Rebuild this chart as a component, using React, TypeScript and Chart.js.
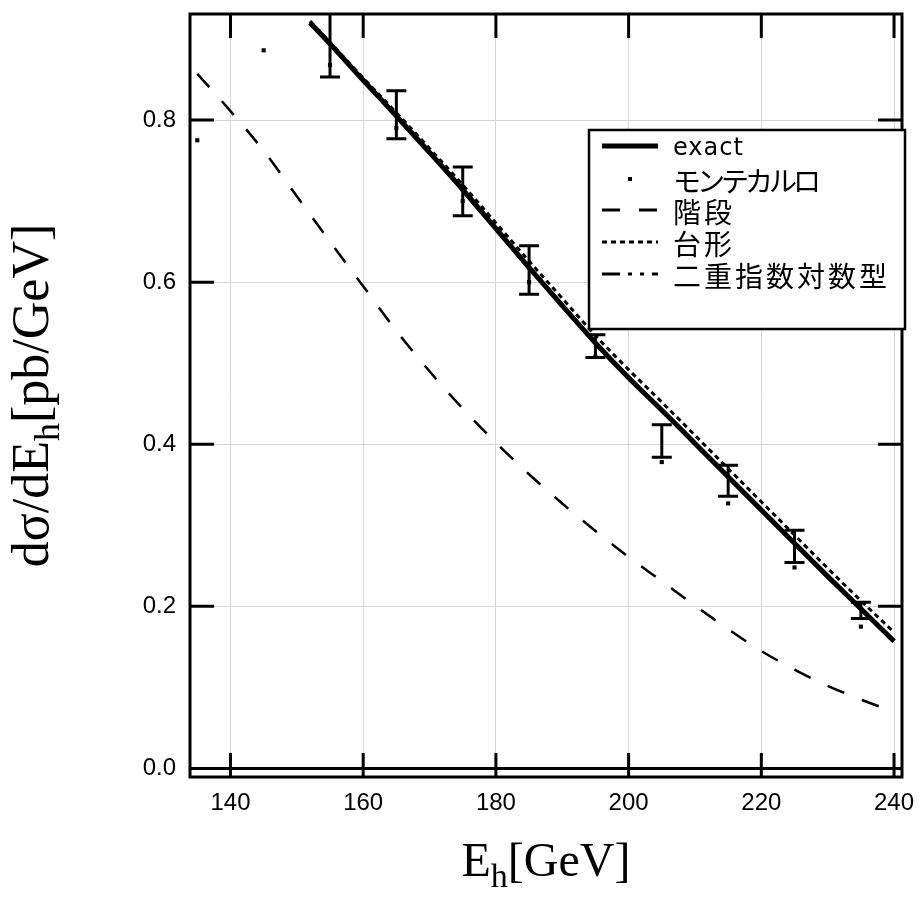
import React, { useEffect, useRef } from "react";
import { Chart, registerables } from "chart.js";
Chart.register(...registerables);

// ---- data ----
const xTicks = [140, 160, 180, 200, 220, 240];
const yTicks = [0, 0.2, 0.4, 0.6, 0.8];

const curveX = [152, 155, 160, 165, 170, 175, 180, 185, 190, 195, 200, 205, 210, 215, 220, 225, 230, 235, 240];
const exactY = [0.920, 0.894, 0.849, 0.805, 0.760, 0.714, 0.666, 0.618, 0.571, 0.525, 0.482, 0.442, 0.401, 0.360, 0.319, 0.278, 0.237, 0.197, 0.157];
const trapY = [0.922, 0.896, 0.852, 0.809, 0.765, 0.720, 0.673, 0.626, 0.580, 0.534, 0.492, 0.452, 0.411, 0.370, 0.329, 0.288, 0.247, 0.207, 0.168];
const dexpY = [0.921, 0.895, 0.850, 0.806, 0.761, 0.715, 0.667, 0.619, 0.572, 0.526, 0.483, 0.443, 0.402, 0.361, 0.320, 0.279, 0.238, 0.198, 0.158];

const stepX = [135, 140, 145, 150, 155, 160, 165, 170, 175, 180, 185, 190, 195, 200, 205, 210, 215, 220, 225, 230, 235, 240];
const stepY = [0.857, 0.811, 0.762, 0.706, 0.650, 0.595, 0.540, 0.490, 0.444, 0.402, 0.363, 0.327, 0.293, 0.261, 0.231, 0.201, 0.172, 0.145, 0.122, 0.102, 0.085, 0.070];

const mcX = [135, 145, 155, 165, 175, 185, 195, 205, 215, 225, 235];
const mcY = [0.775, 0.886, 0.868, 0.790, 0.700, 0.600, 0.508, 0.378, 0.327, 0.248, 0.175];

const errX = [155, 165, 175, 185, 195, 205, 215, 225, 235];
const errLow = [0.853, 0.777, 0.682, 0.585, 0.507, 0.384, 0.336, 0.254, 0.185];
const errHigh = [0.933, 0.836, 0.742, 0.645, 0.535, 0.424, 0.374, 0.294, 0.205];

const labels = ["exact", "モンテカルロ", "階段", "台形", "二重指数対数型"];

const pts = (xs: number[], ys: number[]) => xs.map((x, i) => ({ x, y: ys[i] }));

type Part = { t: string; sub?: boolean };

function drawParts(ctx: CanvasRenderingContext2D, parts: Part[], cx: number, baseline: number, size: number, family: string) {
  const subSize = Math.round(size * 0.7);
  const widths = parts.map((p) => {
    ctx.font = `${p.sub ? subSize : size}px ${family}`;
    return ctx.measureText(p.t).width;
  });
  const total = widths.reduce((a, b) => a + b, 0);
  let x = cx - total / 2;
  ctx.textAlign = "left";
  ctx.textBaseline = "alphabetic";
  parts.forEach((p, i) => {
    ctx.font = `${p.sub ? subSize : size}px ${family}`;
    ctx.fillText(p.t, x, baseline + (p.sub ? size * 0.22 : 0));
    x += widths[i];
  });
}

const decorPlugin = {
  id: "decor",
  afterDatasetsDraw(chart: any) {
    const { ctx, chartArea: a, scales } = chart;
    const xs = scales.x;
    const ys = scales.y;
    ctx.save();
    // error bars (clipped)
    ctx.save();
    ctx.beginPath();
    ctx.rect(a.left, a.top, a.right - a.left, a.bottom - a.top);
    ctx.clip();
    ctx.strokeStyle = "#000";
    ctx.lineWidth = 3;
    ctx.setLineDash([]);
    errX.forEach((v, i) => {
      const px = xs.getPixelForValue(v);
      const lo = ys.getPixelForValue(errLow[i]);
      const hi = ys.getPixelForValue(errHigh[i]);
      ctx.beginPath();
      ctx.moveTo(px, lo);
      ctx.lineTo(px, hi);
      ctx.moveTo(px - 10, lo);
      ctx.lineTo(px + 10, lo);
      ctx.moveTo(px - 10, hi);
      ctx.lineTo(px + 10, hi);
      ctx.stroke();
    });
    ctx.restore();

    // frame, zero line, inward ticks
    ctx.strokeStyle = "#000";
    ctx.lineWidth = 3;
    ctx.setLineDash([]);
    ctx.strokeRect(a.left, a.top, a.right - a.left, a.bottom - a.top);
    const y0 = ys.getPixelForValue(0);
    ctx.beginPath();
    ctx.moveTo(a.left, y0);
    ctx.lineTo(a.right, y0);
    ctx.stroke();
    const tl = 24;
    ctx.beginPath();
    yTicks.forEach((v) => {
      const py = ys.getPixelForValue(v);
      ctx.moveTo(a.left, py);
      ctx.lineTo(a.left + tl, py);
      ctx.moveTo(a.right, py);
      ctx.lineTo(a.right - tl, py);
    });
    xTicks.forEach((v) => {
      const px = xs.getPixelForValue(v);
      ctx.moveTo(px, a.top);
      ctx.lineTo(px, a.top + tl);
      ctx.moveTo(px, a.bottom);
      ctx.lineTo(px, a.bottom - tl);
    });
    ctx.stroke();

    // legend
    const L = { left: 589, top: 130, right: 905, bottom: 329 };
    ctx.fillStyle = "#fff";
    ctx.fillRect(L.left, L.top, L.right - L.left, L.bottom - L.top);
    ctx.lineWidth = 2.5;
    ctx.strokeRect(L.left, L.top, L.right - L.left, L.bottom - L.top);
    const rows = [146, 179, 210, 242, 274];
    const sx0 = 602, sx1 = 658;
    const styles = [
      { w: 5, dash: [] as number[] },
      null,
      { w: 3, dash: [18, 19] },
      { w: 3, dash: [5, 4] },
      { w: 3, dash: [18, 8, 4, 8, 4, 8] },
    ];
    const fonts = [
      { f: '24px "DejaVu Sans", sans-serif', ls: "1px", dy: 3 },
      { f: '28px "Noto Sans CJK JP", sans-serif', ls: "-4px", dy: 2 },
      { f: '28px "Noto Sans CJK JP", sans-serif', ls: "3px", dy: 2 },
      { f: '28px "Noto Sans CJK JP", sans-serif', ls: "3px", dy: 2 },
      { f: '28px "Noto Sans CJK JP", sans-serif', ls: "3px", dy: 2 },
    ];
    rows.forEach((ry, i) => {
      const s = styles[i];
      if (s) {
        ctx.beginPath();
        ctx.lineWidth = s.w;
        ctx.setLineDash(s.dash);
        ctx.moveTo(sx0, ry);
        ctx.lineTo(sx1, ry);
        ctx.stroke();
        ctx.setLineDash([]);
      } else {
        ctx.fillStyle = "#000";
        ctx.fillRect(628, ry - 2, 4, 4);
      }
      ctx.fillStyle = "#000";
      ctx.font = fonts[i].f;
      (ctx as any).letterSpacing = fonts[i].ls;
      ctx.textAlign = "left";
      ctx.textBaseline = "middle";
      ctx.fillText(labels[i], 673, ry + fonts[i].dy);
      (ctx as any).letterSpacing = "0px";
    });

    // axis titles
    ctx.fillStyle = "#000";
    const serif = '"Liberation Serif", "Times New Roman", serif';
    drawParts(ctx, [{ t: "E" }, { t: "h", sub: true }, { t: "[GeV]" }], (a.left + a.right) / 2, 876, 48, serif);
    ctx.save();
    ctx.translate(48, (a.top + a.bottom) / 2);
    ctx.rotate(-Math.PI / 2);
    drawParts(ctx, [{ t: "dσ/dE" }, { t: "h", sub: true }, { t: "[pb/GeV]" }], 0, 0, 52, serif);
    ctx.restore();
    ctx.restore();
  },
};

export default function App() {
  const ref = useRef<HTMLCanvasElement | null>(null);
  useEffect(() => {
    if (!ref.current) return;
    const tickFont = { family: '"Liberation Sans", Arial, sans-serif', size: 24 };
    const chart = new Chart(ref.current, {
      type: "scatter",
      data: {
        datasets: [
          {
            label: labels[0],
            data: pts(curveX, exactY),
            showLine: true,
            borderColor: "#000",
            borderWidth: 5,
            pointRadius: 0,
            cubicInterpolationMode: "monotone",
          },
          {
            label: labels[1],
            data: pts(mcX, mcY),
            showLine: false,
            pointStyle: "rect",
            pointRadius: 2.9,
            pointBorderWidth: 0,
            backgroundColor: "#000",
            borderColor: "#000",
          },
          {
            label: labels[4],
            data: pts(curveX, dexpY),
            showLine: true,
            borderColor: "#000",
            borderWidth: 3,
            borderDash: [18, 8, 4, 8, 4, 8],
            pointRadius: 0,
            cubicInterpolationMode: "monotone",
          },
          {
            label: labels[3],
            data: pts(curveX, trapY),
            showLine: true,
            borderColor: "#000",
            borderWidth: 3,
            borderDash: [5, 4],
            pointRadius: 0,
            cubicInterpolationMode: "monotone",
          },
          {
            label: labels[2],
            data: pts(stepX, stepY),
            showLine: true,
            borderColor: "#000",
            borderWidth: 2.5,
            borderDash: [18, 19],
            pointRadius: 0,
            cubicInterpolationMode: "monotone",
          },
        ] as any,
      },
      options: {
        animation: false,
        responsive: false,
        maintainAspectRatio: false,
        layout: { padding: { left: 0, right: 20, top: 14, bottom: 0 } },
        plugins: { legend: { display: false }, tooltip: { enabled: false } },
        scales: {
          x: {
            type: "linear",
            min: 133.9,
            max: 241.2,
            border: { display: false },
            grid: { color: "#d6d6d6", lineWidth: 1, drawTicks: false },
            ticks: {
              font: tickFont,
              color: "#000",
              padding: 12,
              autoSkip: false,
              maxRotation: 0,
              callback: (v: any) => String(v),
            },
            afterBuildTicks: (s: any) => {
              s.ticks = xTicks.map((v) => ({ value: v }));
            },
            afterFit: (s: any) => {
              s.height = 139;
              s.paddingLeft = 0;
              s.paddingRight = 0;
            },
          },
          y: {
            type: "linear",
            min: -0.0105,
            max: 0.9308,
            border: { display: false },
            grid: { color: "#d6d6d6", lineWidth: 1, drawTicks: false },
            ticks: {
              font: tickFont,
              color: "#000",
              padding: 14,
              autoSkip: false,
              callback: (v: any) => Number(v).toFixed(1),
            },
            afterBuildTicks: (s: any) => {
              s.ticks = yTicks.map((v) => ({ value: v }));
            },
            afterFit: (s: any) => {
              s.width = 190;
              s.paddingTop = 0;
              s.paddingBottom = 0;
            },
          },
        },
      } as any,
      plugins: [decorPlugin],
    });
    return () => chart.destroy();
  }, []);
  return (
    <div style={{ position: "absolute", left: 0, top: 0, width: 922, height: 916, background: "#fff" }}>
      <canvas ref={ref} width={922} height={916} style={{ display: "block" }} />
    </div>
  );
}
